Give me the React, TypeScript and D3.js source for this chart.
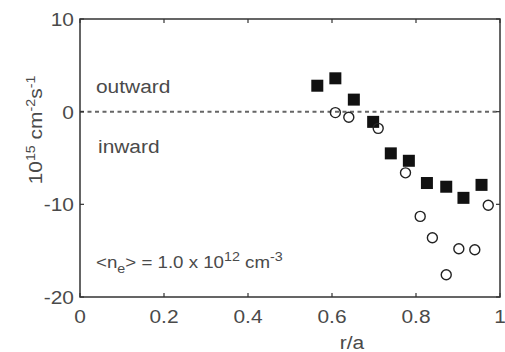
import React from "react";
import * as d3 from "d3";

const squareX = [0.565, 0.608, 0.652, 0.698, 0.740, 0.783, 0.826, 0.872, 0.913, 0.956];
const squareY = [2.8, 3.6, 1.3, -1.1, -4.5, -5.3, -7.7, -8.1, -9.3, -7.9];
const circleX = [0.608, 0.640, 0.710, 0.775, 0.810, 0.839, 0.872, 0.902, 0.940, 0.972];
const circleY = [-0.1, -0.6, -1.8, -6.6, -11.3, -13.6, -17.6, -14.8, -14.9, -10.1];
const xTicks = [0, 0.2, 0.4, 0.6, 0.8, 1];
const yTicks = [-20, -10, 0, 10];

const W = 505, H = 352;
const L = 80, R = 500, T = 19, B = 297;
const SX = 1.1;
const TXT = "#4a4a4a";

function Txt(props: { x: number; y: number; size: number; anchor?: string; rot?: number; children: any }) {
  const { x, y, size, anchor, rot, children } = props;
  const tr = `translate(${x},${y})${rot ? ` rotate(${rot})` : ""} scale(${SX},1)`;
  return (
    <text transform={tr} fontSize={size} textAnchor={anchor || "start"} fill={TXT}>
      {children}
    </text>
  );
}

export default function App() {
  const x = d3.scaleLinear().domain([0, 1]).range([L, R]);
  const y = d3.scaleLinear().domain([-20, 10]).range([B, T]);
  const font = "'Liberation Sans', Arial, sans-serif";
  const axisColor = "#333";
  const fmtX = (v: number) => (v === 0 || v === 1 ? String(v) : v.toFixed(1));
  return (
    <svg width={W} height={H} style={{ position: "absolute", left: 0, top: 0, background: "#fff" }}
      fontFamily={font}>
      <rect x={0} y={0} width={W} height={H} fill="#fff" />
      <line x1={L} x2={R} y1={y(0)} y2={y(0)} stroke="#666" strokeWidth={2} strokeDasharray="4,3.5" />
      <rect x={L} y={T} width={R - L} height={B - T} fill="none" stroke={axisColor} strokeWidth={1.5} />
      {xTicks.map((t) => (
        <g key={"xt" + t}>
          <line x1={x(t)} x2={x(t)} y1={B} y2={B - 4} stroke={axisColor} strokeWidth={1.2} />
          <line x1={x(t)} x2={x(t)} y1={T} y2={T + 4} stroke={axisColor} strokeWidth={1.2} />
          <Txt x={x(t)} y={323} size={19} anchor="middle">{fmtX(t)}</Txt>
        </g>
      ))}
      {yTicks.map((t) => (
        <g key={"yt" + t}>
          <line x1={L} x2={L + 4} y1={y(t)} y2={y(t)} stroke={axisColor} strokeWidth={1.2} />
          <line x1={R} x2={R - 4} y1={y(t)} y2={y(t)} stroke={axisColor} strokeWidth={1.2} />
          <Txt x={74} y={y(t) + 7} size={19} anchor="end">{t}</Txt>
        </g>
      ))}
      <Txt x={352} y={349} size={19} anchor="middle">r/a</Txt>
      <Txt x={42} y={130} size={19} anchor="middle" rot={-90}>
        10<tspan dy={-7} fontSize={13}>15</tspan><tspan dy={7}> cm</tspan>
        <tspan dy={-7} fontSize={13}>-2</tspan><tspan dy={7}>s</tspan>
        <tspan dy={-7} fontSize={13}>-1</tspan>
      </Txt>
      <Txt x={96} y={93} size={19}>outward</Txt>
      <Txt x={98} y={153} size={19}>inward</Txt>
      <Txt x={96} y={268} size={17}>
        &lt;n<tspan dy={5} fontSize={13}>e</tspan><tspan dy={-5}>&gt; = 1.0 x 10</tspan>
        <tspan dy={-7} fontSize={13}>12</tspan><tspan dy={7}> cm</tspan>
        <tspan dy={-7} fontSize={13}>-3</tspan>
      </Txt>
      {squareX.map((v, i) => (
        <rect key={"s" + i} x={x(v) - 6} y={y(squareY[i]) - 6} width={12} height={12} fill="#111" />
      ))}
      {circleX.map((v, i) => (
        <circle key={"c" + i} cx={x(v)} cy={y(circleY[i])} r={5} fill="none" stroke="#222" strokeWidth={1.4} />
      ))}
    </svg>
  );
}
